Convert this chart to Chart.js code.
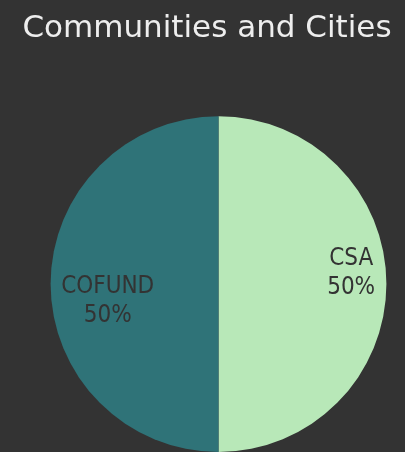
<!DOCTYPE html>
<html>
<head>
<meta charset="utf-8">
<script src="https://cdn.jsdelivr.net/npm/chart.js@4"></script>
<style>
  html, body { margin: 0; padding: 0; background: #333333; }
  #wrap { width: 405px; height: 452px; }
</style>
</head>
<body>
<div id="wrap"><canvas id="myChart"></canvas></div>
<script>
const labels = ['CSA', 'COFUND'];
const values = [50, 50];
const colors = ['#b8e8b8', '#2f7378'];

// label offsets per slice: radial fraction and vertical nudge
const labelPos = [{ r: 0.79, dy: -11 }, { r: 0.66, dy: 17 }];

// push the pie to the right without moving the title
const shiftArea = {
    id: 'shiftArea',
    afterLayout(chart) {
        chart.chartArea.left += 23;
        chart.chartArea.width = chart.chartArea.right - chart.chartArea.left;
    }
};

const sliceLabels = {
    id: 'sliceLabels',
    afterDatasetsDraw(chart) {
        const ctx = chart.ctx;
        const meta = chart.getDatasetMeta(0);
        const total = values.reduce((a, b) => a + b, 0);
        ctx.save();
        ctx.font = '24px "DejaVu Sans Condensed", sans-serif';
        ctx.fillStyle = '#333333';
        ctx.textAlign = 'center';
        ctx.textBaseline = 'middle';
        meta.data.forEach((arc, i) => {
            const p = arc.getProps(['x', 'y', 'startAngle', 'endAngle', 'outerRadius']);
            const mid = (p.startAngle + p.endAngle) / 2;
            const r = p.outerRadius * labelPos[i].r;
            const x = p.x + Math.cos(mid) * r;
            const y = p.y + Math.sin(mid) * r + labelPos[i].dy;
            const pct = Math.round(values[i] / total * 100) + '%';
            ctx.fillText(labels[i], x, y - 14.5);
            ctx.fillText(pct, x, y + 14.5);
        });
        ctx.restore();
    }
};

const ctx = document.getElementById('myChart').getContext('2d');
const myChart = new Chart(ctx, {
    type: 'pie',
    data: {
        labels: labels,
        datasets: [{
            data: values,
            backgroundColor: colors,
            borderWidth: 0
        }]
    },
    options: {
        responsive: true,
        maintainAspectRatio: false,
        animation: false,
        layout: { padding: { left: 9, right: 0, top: 0, bottom: 0 } },
        plugins: {
            legend: { display: false },
            tooltip: { enabled: false },
            title: {
                display: true,
                text: 'Communities and Cities',
                color: '#eeeeee',
                font: { family: '"DejaVu Sans", sans-serif', size: 31, weight: 'normal' },
                padding: { top: 10, bottom: 69 }
            }
        }
    },
    plugins: [shiftArea, sliceLabels]
});
</script>
</body>
</html>
